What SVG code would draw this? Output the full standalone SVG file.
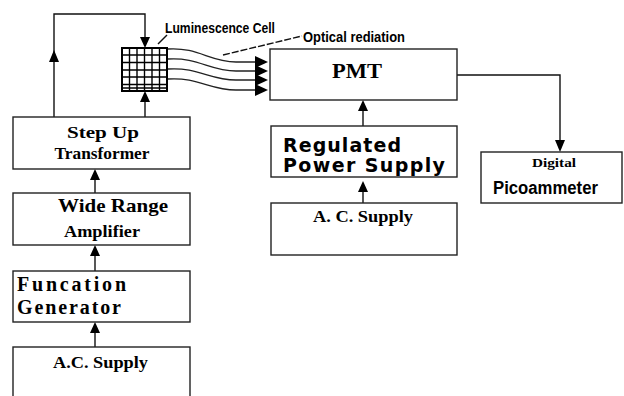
<svg xmlns="http://www.w3.org/2000/svg" width="624" height="396" viewBox="0 0 624 396">
<defs>
<style>
.box{fill:#fff;stroke:#222;stroke-width:1.4}
.ln{fill:none;stroke:#111;stroke-width:1.4}
.wave{fill:none;stroke:#222;stroke-width:1.3}
.ah{fill:#000}
.serif{font-family:"Liberation Serif","Times New Roman",serif;font-weight:bold;fill:#000}
.sans{font-family:"DejaVu Sans","Liberation Sans",sans-serif;font-weight:bold;fill:#000}
.lbl{font-family:"Liberation Sans",Arial,sans-serif;fill:#000}
</style>
</defs>
<rect width="624" height="396" fill="#fff"/>

<g id="connectors">
  <polyline class="ln" points="54,117 54,14 145,14 145,40"/>
  <polygon class="ah" points="145,48 140,37 150,37"/>
  <polygon class="ah" points="54,50 49,62 59,62"/>
  <line class="ln" x1="145" y1="117" x2="145" y2="98"/>
  <polygon class="ah" points="145,91 140,102 150,102"/>
  <line class="ln" x1="95" y1="193" x2="95" y2="176"/>
  <polygon class="ah" points="95,169 90,180 100,180"/>
  <line class="ln" x1="95" y1="271" x2="95" y2="252"/>
  <polygon class="ah" points="95,245 90,256 100,256"/>
  <line class="ln" x1="95" y1="347" x2="95" y2="329"/>
  <polygon class="ah" points="95,322 90,333 100,333"/>
  <line class="ln" x1="363" y1="126" x2="363" y2="107"/>
  <polygon class="ah" points="363,100 358,111 368,111"/>
  <line class="ln" x1="363" y1="203" x2="363" y2="188"/>
  <polygon class="ah" points="363,181 358,192 368,192"/>
  <polyline class="ln" points="457,75 560,75 560,142"/>
  <polygon class="ah" points="560,152 555,140 565,140"/>
  <path class="wave" d="M168,49 C198,47 210,62 236,62 L258,62"/>
  <path class="wave" d="M168,59 C198,57 210,71 236,71 L258,71"/>
  <path class="wave" d="M168,69 C198,67 210,80 236,80 L258,80"/>
  <path class="wave" d="M168,79 C198,77 210,90 236,90 L258,90"/>
  <polygon class="ah" points="268,62 255,56 255,68"/>
  <polygon class="ah" points="268,71 255,65 255,77"/>
  <polygon class="ah" points="268,80 255,74 255,86"/>
  <polygon class="ah" points="268,90 255,84 255,96"/>
  <line class="ln" x1="158" y1="44" x2="167" y2="35" stroke-width="1"/>
  <line class="ln" x1="223" y1="55" x2="302" y2="36" stroke-width="1.2" stroke-dasharray="7 2"/>
</g>

<g id="cell">
  <rect x="122" y="48" width="45" height="43" fill="#fff" stroke="#000" stroke-width="2"/>
  <g stroke="#000" stroke-width="1.4">
    <line x1="129.5" y1="48" x2="129.5" y2="91"/>
    <line x1="137" y1="48" x2="137" y2="91"/>
    <line x1="144.5" y1="48" x2="144.5" y2="91"/>
    <line x1="152" y1="48" x2="152" y2="91"/>
    <line x1="159.5" y1="48" x2="159.5" y2="91"/>
    <line x1="122" y1="55" x2="167" y2="55"/>
    <line x1="122" y1="62.5" x2="167" y2="62.5"/>
    <line x1="122" y1="70" x2="167" y2="70"/>
    <line x1="122" y1="77" x2="167" y2="77"/>
    <line x1="122" y1="84.5" x2="167" y2="84.5"/>
    <line x1="122" y1="88" x2="167" y2="88"/>
  </g>
  <text class="lbl" x="165" y="33" font-size="15" font-weight="bold" textLength="110" lengthAdjust="spacingAndGlyphs">Luminescence Cell</text>
  <text class="lbl" x="303" y="42" font-size="15" font-weight="bold" textLength="102" lengthAdjust="spacingAndGlyphs">Optical rediation</text>
</g>

<g id="stepup">
  <rect class="box" x="13" y="117" width="177" height="52"/>
  <text class="serif" x="103" y="138" font-size="17" text-anchor="middle" textLength="72" lengthAdjust="spacingAndGlyphs">Step Up</text>
  <text class="serif" x="102" y="159" font-size="17" text-anchor="middle" textLength="95" lengthAdjust="spacingAndGlyphs">Transformer</text>
</g>

<g id="amplifier">
  <rect class="box" x="13" y="193" width="177" height="52"/>
  <text class="serif" x="58" y="212" font-size="19" textLength="110" lengthAdjust="spacingAndGlyphs">Wide Range</text>
  <text class="serif" x="64" y="237" font-size="17" textLength="76" lengthAdjust="spacingAndGlyphs">Amplifier</text>
</g>

<g id="generator">
  <rect class="box" x="13" y="271" width="177" height="51"/>
  <text class="serif" x="17" y="291" font-size="20" textLength="109" lengthAdjust="spacing">Funcation</text>
  <text class="serif" x="17" y="314" font-size="20" textLength="104" lengthAdjust="spacing">Generator</text>
</g>

<g id="acsupply-left">
  <rect class="box" x="13" y="347" width="177" height="60"/>
  <text class="serif" x="53" y="368" font-size="17" textLength="95" lengthAdjust="spacingAndGlyphs">A.C. Supply</text>
</g>

<g id="pmt">
  <rect class="box" x="270" y="49" width="187" height="51"/>
  <text class="serif" x="332" y="78" font-size="22" textLength="50" lengthAdjust="spacingAndGlyphs">PMT</text>
</g>

<g id="powersupply">
  <rect class="box" x="271" y="126" width="186" height="51"/>
  <text class="sans" x="283" y="152" font-size="19" textLength="118" lengthAdjust="spacing">Regulated</text>
  <text class="sans" x="283" y="172" font-size="19" textLength="162" lengthAdjust="spacing">Power Supply</text>
</g>

<g id="acsupply-right">
  <rect class="box" x="271" y="203" width="186" height="52"/>
  <text class="serif" x="313" y="222" font-size="17" textLength="100" lengthAdjust="spacingAndGlyphs">A. C. Supply</text>
</g>

<g id="picoammeter">
  <rect class="box" x="481" y="152" width="141" height="51"/>
  <text class="serif" x="532" y="167" font-size="12" textLength="44" lengthAdjust="spacingAndGlyphs">Digital</text>
  <text class="lbl" x="493" y="194" font-size="18" font-weight="bold" textLength="105" lengthAdjust="spacingAndGlyphs">Picoammeter</text>
</g>
</svg>
